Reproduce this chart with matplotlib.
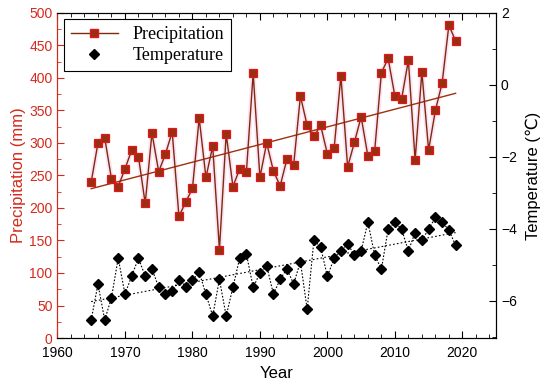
import numpy as np
import matplotlib.pyplot as plt
from matplotlib.lines import Line2D
from matplotlib.ticker import MultipleLocator

years = list(range(1965, 2020))
precip = [240, 300, 308, 245, 233, 260, 289, 279, 207, 315,
          256, 283, 317, 187, 209, 230, 338, 247, 295, 136,
          314, 233, 260, 256, 407, 247, 300, 257, 234, 275,
          266, 372, 327, 310, 327, 283, 292, 403, 263, 301,
          340, 280, 287, 408, 430, 372, 368, 427, 274, 409,
          289, 350, 392, 481, 457]
temp = [-6.53, -5.53, -6.53, -5.91, -4.81, -5.81, -5.31, -4.81, -5.31, -5.11,
        -5.62, -5.81, -5.72, -5.42, -5.62, -5.42, -5.21, -5.81, -6.42, -5.40,
        -6.42, -5.62, -4.81, -4.70, -5.62, -5.23, -5.02, -5.81, -5.40, -5.11,
        -5.53, -4.91, -6.23, -4.31, -4.51, -5.32, -4.81, -4.61, -4.42, -4.72,
        -4.61, -3.81, -4.72, -5.12, -4.01, -3.81, -4.01, -4.61, -4.10, -4.31,
        -4.01, -3.68, -3.81, -4.03, -4.46]

plt.rcParams['font.family'] = ['Liberation Sans', 'DejaVu Sans']
red = '#d42a1c'

fig = plt.figure(figsize=(5.5, 3.91), dpi=100)
ax1 = fig.add_axes([0.1045, 0.1355, 0.7975, 0.8315])
ax2 = ax1.twinx()

yr = np.array(years)
p = np.polyfit(yr, precip, 1)
t = np.polyfit(yr, temp, 1)

# precipitation
ax1.plot(years, precip, color='#fbd0ec', lw=3.5, alpha=0.6, zorder=1)
ax1.plot(years, precip, color='#7e2a0c', lw=1, marker='s', ms=5.5,
         mfc='#963010', mec='#e8141c', mew=0.9, zorder=3)
ax1.plot(yr, np.polyval(p, yr), color='#a0300e', lw=1, zorder=2)

# temperature
ax2.plot(years, temp, color='black', lw=0.8, ls=(0, (1.5, 1.5)), marker='D',
         ms=5.5, mfc='black', mec='black')
ax2.plot(yr, np.polyval(t, yr), color='black', lw=0.8, ls=(0, (1.5, 2)))

ax1.set_xlim(1960, 2025)
ax1.set_ylim(0, 500)
ax2.set_ylim(-7.03, 2)

ax1.xaxis.set_major_locator(MultipleLocator(10))
ax1.xaxis.set_minor_locator(MultipleLocator(2))
ax1.yaxis.set_major_locator(MultipleLocator(50))
ax1.yaxis.set_minor_locator(MultipleLocator(25))
ax2.yaxis.set_major_locator(MultipleLocator(2))
ax2.yaxis.set_minor_locator(MultipleLocator(1))

ax1.tick_params(axis='x', which='both', direction='in', top=True, labelsize=10, pad=6)
ax1.tick_params(axis='x', which='major', length=5)
ax1.tick_params(axis='x', which='minor', length=3)
ax1.tick_params(axis='y', which='both', direction='in', colors=red, labelsize=10)
ax1.tick_params(axis='y', which='major', length=5)
ax1.tick_params(axis='y', which='minor', length=3)
ax2.tick_params(axis='y', which='both', direction='in', labelsize=10)
ax2.tick_params(axis='y', which='major', length=5)
ax2.tick_params(axis='y', which='minor', length=3)
ax2.spines['left'].set_color(red)
ax1.spines['left'].set_color(red)

ax1.set_xlabel('Year', fontsize=12)
ax1.set_ylabel('Precipitation (mm)', fontsize=12, color=red, labelpad=2)
ax2.set_ylabel('Temperature (℃)', fontsize=12, labelpad=6)

h1 = Line2D([], [], color='#7e2a0c', lw=1, marker='s', ms=5.5,
            mfc='#963010', mec='#e8141c')
h2 = Line2D([], [], color='black', lw=0, marker='D', ms=5.5)
leg = ax1.legend([h1, h2], ['Precipitation', 'Temperature'], loc='upper left',
                 prop={'family': 'Liberation Serif', 'size': 13},
                 fancybox=False, edgecolor='black', framealpha=1,
                 borderaxespad=0.35, handlelength=2.6, labelspacing=0.2,
                 borderpad=0.4)
leg.get_frame().set_linewidth(0.8)

fig.savefig('out.png', dpi=100)
